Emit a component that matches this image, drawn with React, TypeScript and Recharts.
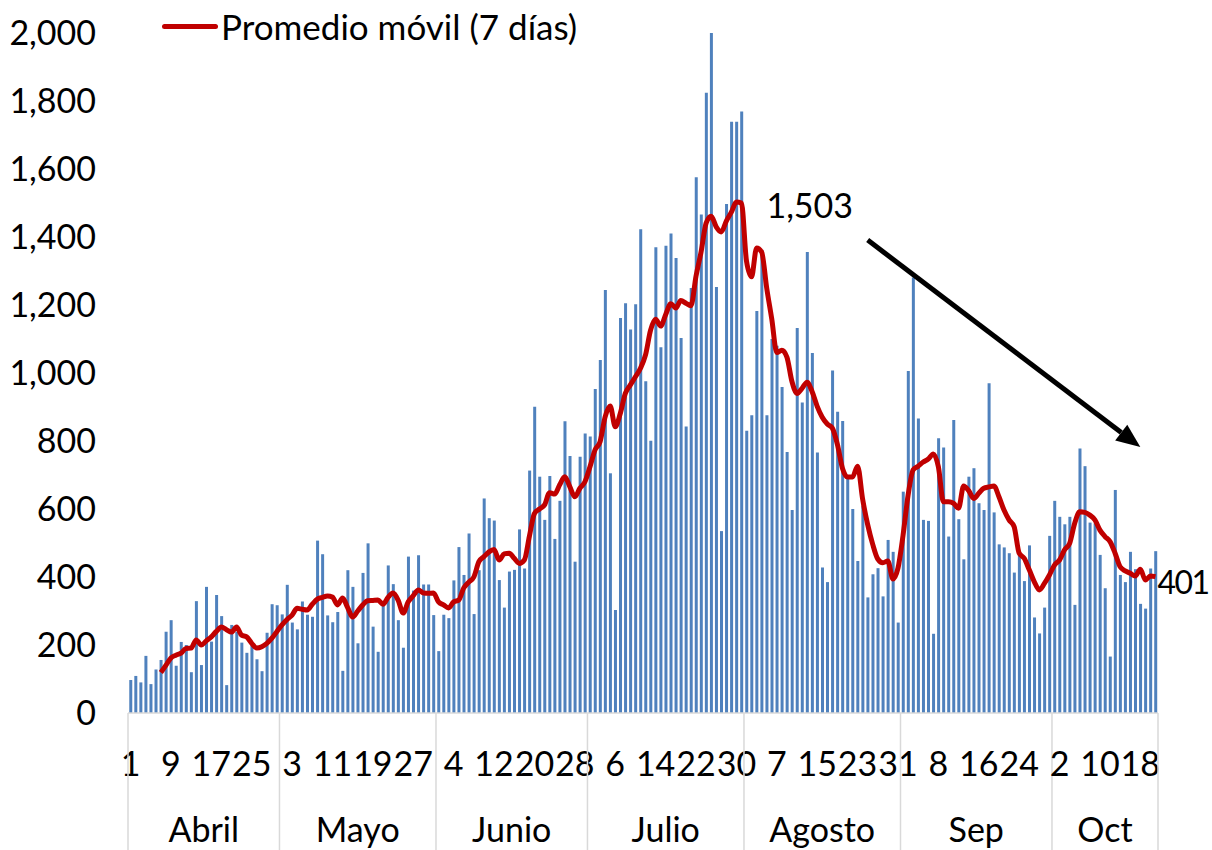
import { ComposedChart, Bar, Line, XAxis, YAxis, ReferenceLine, Legend, LabelList } from "recharts";

const FONT = "Lato, 'Noto Sans', sans-serif";

// months and days shown on the axis (1 Apr .. 21 Oct)
const meses = ["Abril", "Mayo", "Junio", "Julio", "Agosto", "Sep", "Oct"];
const diasPorMes = [30, 31, 30, 31, 31, 30, 21];

// daily cases (bars)
const casos = [
  97, 109, 90, 168, 85, 128, 156, 239, 273, 139, 209, 200, 120, 329, 141, 371, 210, 347, 285, 82,
  259, 239, 207, 177, 200, 158, 123, 236, 320, 317, 290, 377, 266, 246, 328, 289, 283, 507, 467, 287,
  267, 297, 124, 420, 371, 205, 412, 499, 254, 180, 315, 434, 379, 273, 192, 460, 360, 464, 378, 378,
  288, 182, 289, 279, 390, 488, 406, 528, 291, 420, 631, 573, 566, 391, 310, 416, 421, 540, 425, 713,
  901, 695, 568, 697, 512, 624, 858, 756, 445, 754, 822, 813, 953, 1038, 1244, 705, 303, 1162, 1205, 1128,
  1202, 1423, 976, 801, 1370, 1076, 1374, 1410, 1338, 1103, 843, 1250, 1576, 1466, 1824, 2000, 1253, 535, 1497, 1739,
  1739, 1769, 830, 876, 1182, 1362, 876, 1100, 1080, 959, 768, 597, 1132, 913, 1356, 1059, 766, 428, 385, 1007,
  886, 859, 696, 600, 447, 610, 340, 408, 426, 343, 509, 474, 266, 651, 1006, 1281, 866, 568, 565, 233,
  808, 781, 519, 862, 570, 452, 695, 720, 617, 597, 970, 590, 496, 487, 470, 413, 476, 388, 493, 281,
  234, 310, 521, 624, 577, 555, 577, 318, 778, 726, 560, 558, 465, 367, 166, 656, 406, 385, 474, 423,
  321, 307, 425, 476,
];

// 7-day moving average (line)
const promedio: (number | null)[] = [
  null, null, null, null, null, null, 119, 140, 162, 170, 176, 190, 191, 215, 200, 212, 224, 240, 253, 245,
  238, 253, 229, 224, 205, 191, 195, 205, 220, 240, 259, 275, 288, 308, 305, 303, 320, 335, 340, 344,
  341, 318, 338, 310, 282, 300, 318, 330, 331, 332, 320, 340, 353, 332, 294, 327, 345, 362, 353, 352,
  353, 327, 318, 309, 327, 332, 368, 385, 400, 445, 460, 474, 481, 450, 468, 470, 455, 440, 450, 520,
  587, 600, 612, 648, 644, 671, 695, 666, 636, 661, 680, 724, 774, 798, 871, 903, 842, 881, 940, 965,
  989, 1014, 1053, 1126, 1158, 1138, 1172, 1204, 1191, 1213, 1205, 1198, 1285, 1356, 1441, 1461, 1430, 1415, 1447, 1473,
  1503, 1500, 1329, 1283, 1368, 1356, 1250, 1159, 1060, 1067, 1047, 975, 940, 955, 973, 945, 902, 870, 850, 838,
  790, 720, 694, 694, 726, 629, 554, 496, 453, 442, 447, 394, 426, 522, 640, 715, 726, 738, 747, 762,
  724, 621, 621, 617, 602, 668, 654, 631, 646, 661, 665, 668, 636, 597, 568, 548, 470, 455, 421, 386,
  362, 381, 406, 435, 450, 480, 499, 558, 592, 590, 582, 568, 538, 519, 504, 470, 430, 418, 411, 403,
  423, 391, 403, 401,
];

const yTicks = [0, 200, 400, 600, 800, 1000, 1200, 1400, 1600, 1800, 2000];
const labeledPoints = [120, 203]; // peak and last value get a number
const arrowFrom = { idx: 146, value: 1391 };
const arrowTo = { idx: 200, value: 782 };

const data: any[] = [];
const monthStart: Record<number, number> = {};
meses.forEach((mes, mi) => {
  monthStart[data.length] = mi;
  for (let d = 1; d <= diasPorMes[mi]; d++) {
    data.push({ fecha: `${mes} ${d}`, dia: d, casos: casos[data.length], promedio: promedio[data.length] });
  }
});

const W = 1212;
const H = 850;
const M = { top: 33, right: 54, bottom: 0, left: 0 };
const Y_W = 128;
const X_H = 137;
const BAND = (W - M.left - M.right - Y_W) / data.length;

function AxisTick(props: any) {
  const { x, y, payload } = props;
  const i = payload.index ?? props.index;
  const parts: any[] = [];
  if (i % 8 === 0) {
    parts.push(
      <text key="d" x={x} y={y + 49} textAnchor="middle" dominantBaseline="central" fontSize={34} fill="#000" fontFamily={FONT}>
        {data[i].dia}
      </text>
    );
  }
  if (monthStart[i] !== undefined) {
    const mi = monthStart[i];
    const left = x - BAND / 2;
    parts.push(<line key="s" x1={left} x2={left} y1={y} y2={y + X_H} stroke="#d9d9d9" strokeWidth={1.5} />);
    parts.push(
      <text key="m" x={left + (diasPorMes[mi] * BAND) / 2} y={y + 115} textAnchor="middle" dominantBaseline="central" fontSize={34} fill="#000" fontFamily={FONT}>
        {meses[mi]}
      </text>
    );
  }
  if (i === data.length - 1) {
    const right = x + BAND / 2;
    parts.push(<line key="e" x1={right} x2={right} y1={y} y2={y + X_H} stroke="#d9d9d9" strokeWidth={1.5} />);
  }
  return <g>{parts}</g>;
}

function PointLabel(props: any) {
  const { x, y, value, index } = props;
  if (!labeledPoints.includes(index)) return null;
  const last = index === data.length - 1;
  return (
    <text
      x={last ? x + 2 : x + 30}
      y={last ? y + 5 : y + 3}
      dominantBaseline="central"
      fontSize={last ? 32 : 34}
      letterSpacing={last ? -1.5 : 0}
      fill="#000"
      fontFamily={FONT}
    >
      {Number(value).toLocaleString("en-US")}
    </text>
  );
}

function Arrow(props: any) {
  const { x1, y1, x2, y2 } = props;
  const ang = Math.atan2(y2 - y1, x2 - x1);
  const len = 24;
  const half = 10;
  const bx = x2 - len * Math.cos(ang);
  const by = y2 - len * Math.sin(ang);
  const px = -Math.sin(ang) * half;
  const py = Math.cos(ang) * half;
  return (
    <g>
      <line x1={x1} y1={y1} x2={bx} y2={by} stroke="#000" strokeWidth={5} />
      <polygon points={`${x2},${y2} ${bx + px},${by + py} ${bx - px},${by - py}`} fill="#000" />
    </g>
  );
}

function LegendBox() {
  return (
    <div style={{ display: "flex", alignItems: "center", fontFamily: FONT, fontSize: 35, color: "#000", whiteSpace: "nowrap" }}>
      <span style={{ display: "inline-block", width: 56, height: 5, background: "#C00000", borderRadius: 3, marginRight: 3 }} />
      <span>Promedio móvil (7 días)</span>
    </div>
  );
}

export default function App() {
  return (
    <div style={{ position: "absolute", left: 0, top: 0, width: W, height: H, background: "#fff" }}>
      <ComposedChart width={W} height={H} data={data} margin={M} barCategoryGap="25%">
        <XAxis
          dataKey="fecha"
          interval={0}
          height={X_H}
          tickLine={false}
          tickSize={0}
          tickMargin={0}
          axisLine={{ stroke: "#d9d9d9", strokeWidth: 1.5 }}
          tick={<AxisTick />}
        />
        <YAxis
          domain={[0, 2000]}
          ticks={yTicks}
          width={Y_W}
          axisLine={false}
          tickLine={false}
          tickSize={0}
          tickMargin={32}
          tickFormatter={(v) => Number(v).toLocaleString("en-US")}
          tick={{ fontSize: 34, fill: "#000", fontFamily: FONT }}
        />
        <Legend
          verticalAlign="middle"
          align="center"
          layout="horizontal"
          wrapperStyle={{ top: 5, left: 162, width: "auto", height: "auto" }}
          content={() => <LegendBox />}
        />
        <Bar dataKey="casos" fill="#4F81BD" isAnimationActive={false} legendType="none" />
        <Line
          dataKey="promedio"
          type="monotone"
          stroke="#C00000"
          strokeWidth={5}
          dot={false}
          isAnimationActive={false}
          name="Promedio móvil (7 días)"
        >
          <LabelList dataKey="promedio" content={<PointLabel />} />
        </Line>
        <ReferenceLine
          segment={[
            { x: data[arrowFrom.idx].fecha, y: arrowFrom.value },
            { x: data[arrowTo.idx].fecha, y: arrowTo.value },
          ]}
          ifOverflow="visible"
          shape={<Arrow />}
        />
      </ComposedChart>
    </div>
  );
}
